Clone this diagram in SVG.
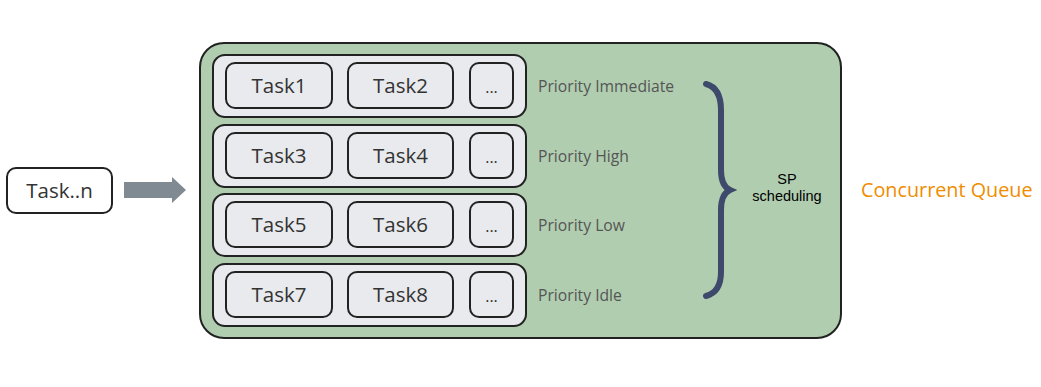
<svg xmlns="http://www.w3.org/2000/svg" width="1041" height="387" viewBox="0 0 1041 387">
<defs>
<style>
.row{fill:#e8eaed;stroke:#222;stroke-width:2}
.task{fill:#e8eaed;stroke:#222;stroke-width:2}
.tt{font-family:"Open Sans",sans-serif;font-size:20.5px;fill:#333;text-anchor:middle}
.dots{font-family:"Open Sans",sans-serif;font-size:16px;fill:#333;text-anchor:middle}
.pl{font-family:"Open Sans",sans-serif;font-size:15.7px;fill:#555}
</style>
</defs>
<rect width="1041" height="387" fill="#fff"/>
<g id="queue">
<rect x="200" y="43" width="641" height="295" rx="24" fill="#b0cdb0" stroke="#222" stroke-width="2"/>
</g>
<g id="row1">
<rect class="row" x="213" y="55" width="313" height="62" rx="12"/>
<rect class="task" x="226" y="63" width="106" height="45" rx="9"/><text class="tt" x="279" y="93">Task1</text>
<rect class="task" x="348" y="63" width="105" height="45" rx="9"/><text class="tt" x="400.5" y="93">Task2</text>
<rect class="task" x="470" y="63" width="43" height="45" rx="9"/><text class="dots" x="491.5" y="93">...</text>
<text class="pl" x="538" y="92">Priority Immediate</text>
</g>
<g id="row2">
<rect class="row" x="213" y="125" width="313" height="62" rx="12"/>
<rect class="task" x="226" y="133" width="106" height="45" rx="9"/><text class="tt" x="279" y="163">Task3</text>
<rect class="task" x="348" y="133" width="105" height="45" rx="9"/><text class="tt" x="400.5" y="163">Task4</text>
<rect class="task" x="470" y="133" width="43" height="45" rx="9"/><text class="dots" x="491.5" y="163">...</text>
<text class="pl" x="538" y="162">Priority High</text>
</g>
<g id="row3">
<rect class="row" x="213" y="194" width="313" height="62" rx="12"/>
<rect class="task" x="226" y="202" width="106" height="45" rx="9"/><text class="tt" x="279" y="232">Task5</text>
<rect class="task" x="348" y="202" width="105" height="45" rx="9"/><text class="tt" x="400.5" y="232">Task6</text>
<rect class="task" x="470" y="202" width="43" height="45" rx="9"/><text class="dots" x="491.5" y="232">...</text>
<text class="pl" x="538" y="231">Priority Low</text>
</g>
<g id="row4">
<rect class="row" x="213" y="264" width="313" height="62" rx="12"/>
<rect class="task" x="226" y="272" width="106" height="45" rx="9"/><text class="tt" x="279" y="302">Task7</text>
<rect class="task" x="348" y="272" width="105" height="45" rx="9"/><text class="tt" x="400.5" y="302">Task8</text>
<rect class="task" x="470" y="272" width="43" height="45" rx="9"/><text class="dots" x="491.5" y="302">...</text>
<text class="pl" x="538" y="301">Priority Idle</text>
</g>
<g id="brace">
<path d="M706 84 Q721 88 721 110 L721 170 Q721 186 730 190 Q721 194 721 210 L721 272 Q721 292 706 296" fill="none" stroke="#3d4a6b" stroke-width="6" stroke-linecap="round"/>
</g>
<g id="sp">
<text x="787" y="184" font-family="Liberation Sans, Arial, sans-serif" font-size="14.5" text-anchor="middle" fill="#000">SP</text>
<text x="787" y="201" font-family="Liberation Sans, Arial, sans-serif" font-size="14.5" text-anchor="middle" fill="#000">scheduling</text>
</g>
<g id="title">
<text x="861" y="197" font-family="Open Sans, sans-serif" font-size="19.8" fill="#f08c00">Concurrent Queue</text>
</g>
<g id="taskn">
<rect x="7" y="168" width="105" height="45" rx="9" fill="#fff" stroke="#222" stroke-width="2"/>
<text class="tt" x="59.5" y="198">Task..n</text>
</g>
<g id="connectors">
<path d="M124 182 L172 182 L172 177 L186 190 L172 203 L172 198 L124 198 Z" fill="#7f8a92"/>
</g>
</svg>
